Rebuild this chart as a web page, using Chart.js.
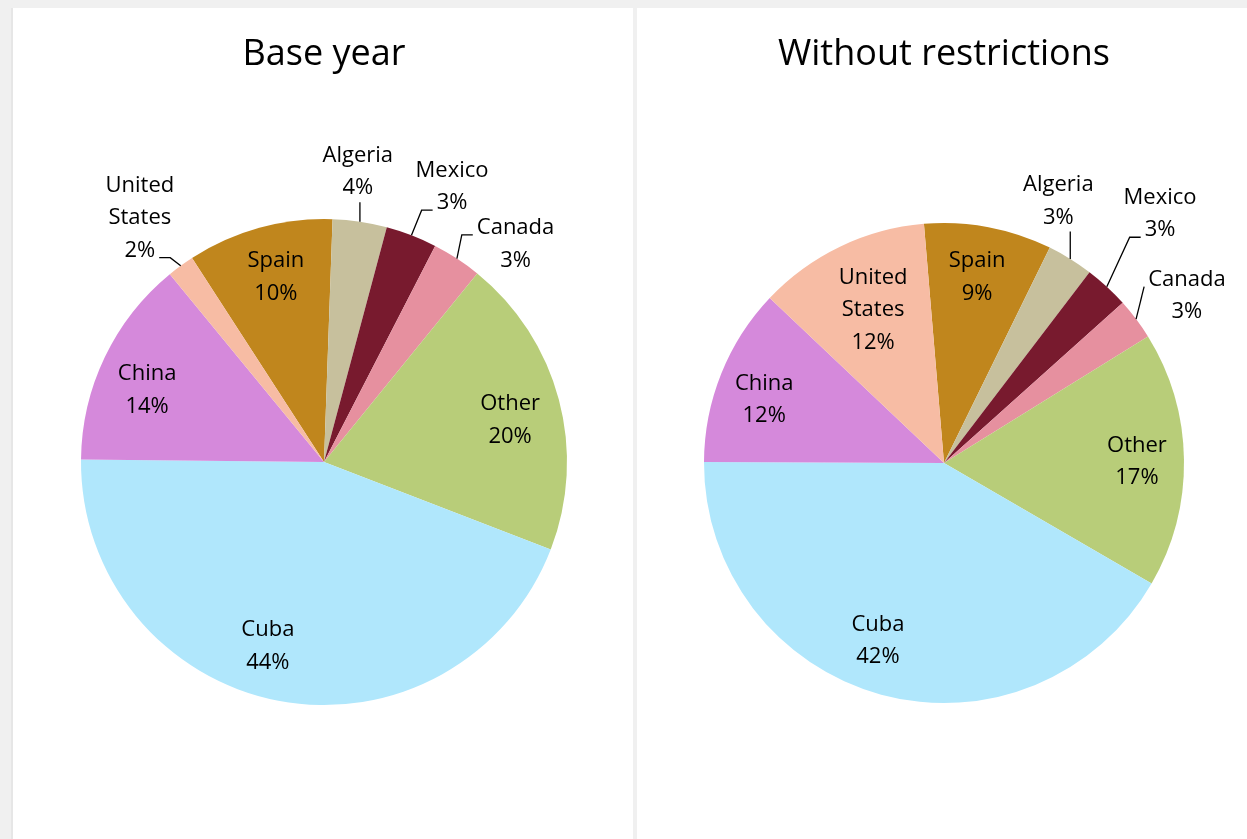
<!DOCTYPE html>
<html>
<head>
<meta charset="utf-8">
<script src="https://cdn.jsdelivr.net/npm/chart.js@4.4.1/dist/chart.umd.min.js"></script>
<style>
  body { margin: 0; background: #f0f0f0; width: 1247px; height: 839px; overflow: hidden; position: relative; }
  .panel { position: absolute; top: 8px; height: 831px; background: #fff; }
  #leftPanel { left: 13px; width: 620px; border-left: 2px solid #e6e6e6; margin-left: -2px; }
  #rightPanel { left: 637px; width: 610px; }
</style>
</head>
<body>
<div class="panel" id="leftPanel"><canvas id="baseChart" width="620" height="831"></canvas></div>
<div class="panel" id="rightPanel"><canvas id="freeChart" width="610" height="831"></canvas></div>
<script>
const countries = ["Spain", "Algeria", "Mexico", "Canada", "Other", "Cuba", "China", "United States"];
const baseYear = [9.7, 3.6, 3.4, 3.3, 20.0, 44.3, 13.9, 1.8];
const noRestrictions = [8.6, 3.1, 3.0, 2.8, 17.2, 41.7, 12.0, 11.6];
const sliceColors = ["#C0861D", "#C7C09D", "#781A2E", "#E6909F", "#B8CD79", "#B0E7FC", "#D589DB", "#F7BCA4"];

// label placement: angle offset from slice middle (deg), distance as share of radius,
// tie = which text line the leader line joins ('below' = vertical under the label)
const basePlace = {
    "Spain": { da: 1.0, rf: 0.794 },
    "Algeria": { da: -1.9, rf: 1.21, tie: "below" },
    "Mexico": { da: 3.7, rf: 1.256, tie: 1 },
    "Canada": { da: 7.9, rf: 1.2, tie: 0 },
    "Other": { da: 1.6, rf: 0.787 },
    "Cuba": { da: 6.3, rf: 0.784 },
    "China": { da: -2.9, rf: 0.789 },
    "United States": { da: -0.7, rf: 1.264, tie: 2 }
};
const freePlace = {
    "Spain": { da: -0.7, rf: 0.795 },
    "Algeria": { da: -8.3, rf: 1.198, tie: "below" },
    "Mexico": { da: -2.0, rf: 1.38, tie: 1 },
    "Canada": { da: 2.0, rf: 1.233, tie: 0 },
    "Other": { da: -0.1, rf: 0.804 },
    "Cuba": { da: 5.4, rf: 0.783 },
    "China": { da: -1.9, rf: 0.797 },
    "United States": { da: 1.1, rf: 0.71 }
};

const LINE_H = 32.5;

const sliceLabels = {
    id: "sliceLabels",
    afterDatasetsDraw(chart, args, opts) {
        const ctx = chart.ctx;
        const meta = chart.getDatasetMeta(0);
        const values = chart.data.datasets[0].data;
        const total = values.reduce((a, b) => a + b, 0);
        ctx.save();
        ctx.font = '22px "Open Sans"';
        ctx.fillStyle = "#000";
        ctx.strokeStyle = "#000";
        ctx.lineWidth = 1.3;
        ctx.textAlign = "center";
        ctx.textBaseline = "middle";
        meta.data.forEach((arc, i) => {
            const name = chart.data.labels[i];
            const p = opts.place[name];
            const R = arc.outerRadius;
            const mid = (arc.startAngle + arc.endAngle) / 2;
            const a = mid + p.da * Math.PI / 180;
            const cx = arc.x + Math.cos(a) * R * p.rf;
            const cy = arc.y + Math.sin(a) * R * p.rf;
            const lines = name.split(" ");
            lines.push(Math.round(values[i] / total * 100) + "%");
            const n = lines.length;
            lines.forEach((t, k) => {
                ctx.fillText(t, cx, cy + 2 + (k - (n - 1) / 2) * LINE_H);
            });
            if (p.tie === undefined) return;
            const ex = arc.x + Math.cos(mid) * R;
            const ey = arc.y + Math.sin(mid) * R;
            ctx.beginPath();
            ctx.moveTo(ex, ey);
            if (p.tie === "below") {
                ctx.lineTo(ex, cy + ((n - 1) / 2) * LINE_H + 16);
            } else {
                const w = ctx.measureText(lines[p.tie]).width;
                const ly = cy + (p.tie - (n - 1) / 2) * LINE_H + 9;
                const toLeft = ex < cx;
                const endX = toLeft ? cx - w / 2 - 4 : cx + w / 2 + 4;
                const elbowX = toLeft ? endX - 11 : endX + 11;
                if (Math.abs(ex - endX) > 11) ctx.lineTo(elbowX, ly);
                ctx.lineTo(endX, ly);
            }
            ctx.stroke();
        });
        ctx.restore();
    }
};

function makePie(id, title, values, place, pad, titlePad) {
    return new Chart(document.getElementById(id), {
        type: "pie",
        data: {
            labels: countries,
            datasets: [{
                data: values,
                backgroundColor: sliceColors,
                borderWidth: 0
            }]
        },
        options: {
            responsive: false,
            animation: false,
            rotation: place.rotation,
            layout: { padding: pad },
            plugins: {
                legend: { display: false },
                tooltip: { enabled: false },
                title: {
                    display: true,
                    text: title,
                    color: "#000",
                    font: { family: "Open Sans", size: 36, weight: "normal", lineHeight: 1.2 },
                    padding: titlePad
                },
                sliceLabels: { place: place.labels }
            }
        },
        plugins: [sliceLabels]
    });
}

makePie("baseChart", "Base year", baseYear,
    { rotation: -32.9, labels: basePlace },
    { top: 0, left: 68, right: 66, bottom: 134 },
    { top: 25, bottom: 142.8 });

makePie("freeChart", "Without restrictions", noRestrictions,
    { rotation: -4.8, labels: freePlace },
    { top: 0, left: 67, right: 63, bottom: 136 },
    { top: 25, bottom: 146.8 });
</script>
</body>
</html>
